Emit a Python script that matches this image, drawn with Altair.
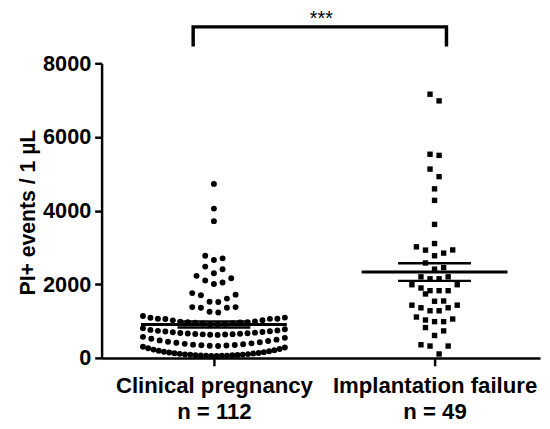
import json
import numpy as np
import pandas as pd
import altair as alt

# ---------------- data ----------------
categories = ["Clinical pregnancy", "Implantation failure"]
n_labels = ["n = 112", "n = 49"]

clinical = [
    4726, 4054, 3714, 2774, 2703, 2658, 2479, 2407, 2300, 2228, 2165, 2102, 2049, 2005,
    1760, 1718, 1700, 1611, 1525, 1520, 1379, 1379, 1361, 1361, 1253, 1235,
    1136, 1095, 1090, 1065, 1065, 1060, 1056, 1025, 1020, 990, 985, 970, 967, 962,
    955, 945, 935, 925, 915, 905,
    805, 780, 760, 745, 735, 725, 715, 705, 695, 686, 678, 670, 662, 655, 650, 645,
    640, 635, 630, 625,
    572, 545, 518, 496, 476, 458, 440, 425, 410, 395, 382, 370, 360, 350, 342, 335,
    328, 322,
    302, 281, 261, 243, 226, 210, 195, 181, 168, 156, 145, 135, 126, 118, 110, 103,
    96, 90, 84, 79, 74, 70, 66, 63, 60, 58, 56, 54,
]

failure = [
    7161, 6980, 5531, 5500, 5128, 4922, 4591, 4278, 3625, 3106,
    3016, 2932, 2927, 2846, 2774, 2578, 2452, 2410, 2202, 2202,
    2148, 2148, 1987, 1987, 1898, 1826, 1826, 1826, 1737, 1545,
    1539, 1432, 1432, 1361, 1361, 1280, 1280, 1110, 1056, 1030,
    985, 985, 824, 734, 609, 357, 322, 322, 107,
]

y_ticks = [0, 2000, 4000, 6000, 8000]
y_title = "PI+ events / 1 \u00b5L"
sig_text = "***"

# ---------------- layout parameters ----------------
W, H = 445, 299
X_DOMAIN = [-0.509, 1.478]
Y_DOMAIN = [0, 8000]
PX_PER_X = W / (X_DOMAIN[1] - X_DOMAIN[0])
ROW_BIN = 257          # value range grouped into one row of the scatter
MAX_HALF_PX = 72       # half width of a row
MEAN_HALF_PX = 74
SEM_HALF_PX = 37


def scatter_offsets(values, spacing_px):
    """GraphPad-like column scatter: group close values in rows, spread them."""
    order = sorted(range(len(values)), key=lambda i: values[i])
    offsets = [0.0] * len(values)
    i = 0
    while i < len(order):
        start = values[order[i]]
        row = [order[i]]
        j = i + 1
        while j < len(order) and values[order[j]] - start < ROW_BIN:
            row.append(order[j])
            j += 1
        n = len(row)
        s = spacing_px if n == 1 else min(spacing_px, 2 * MAX_HALF_PX / (n - 1))
        slots = []
        if n % 2 == 1:
            slots.append(0)
            for k in range(1, n // 2 + 1):
                slots += [k, -k]
        else:
            for k in range(n // 2):
                slots += [k + 0.5, -(k + 0.5)]
        for idx, slot in zip(row, slots):
            offsets[idx] = slot * s / PX_PER_X
        i = j
    return offsets


off_c = scatter_offsets(clinical, 8.8)
off_f = scatter_offsets(failure, 9.2)

pts_c = pd.DataFrame({"x": [0 + o for o in off_c], "y": clinical})
pts_f = pd.DataFrame({"x": [1 + o for o in off_f], "y": failure})

stats = []
for i, vals in enumerate([clinical, failure]):
    a = np.array(vals, dtype=float)
    m = a.mean()
    sem = a.std(ddof=1) / np.sqrt(len(a))
    stats.append({"kind": "mean", "x": i - MEAN_HALF_PX / PX_PER_X,
                  "x2": i + MEAN_HALF_PX / PX_PER_X, "y": m})
    stats.append({"kind": "sem", "x": i - SEM_HALF_PX / PX_PER_X,
                  "x2": i + SEM_HALF_PX / PX_PER_X, "y": m + sem})
    stats.append({"kind": "sem", "x": i - SEM_HALF_PX / PX_PER_X,
                  "x2": i + SEM_HALF_PX / PX_PER_X, "y": m - sem})
stats = pd.DataFrame(stats)

bx0, bx1 = -0.094, 1.054
by_low, by_top = 8455, 8990
bracket = pd.DataFrame({"x": [bx0, bx0, bx1, bx1],
                        "y": [by_low, by_top, by_top, by_low],
                        "o": [0, 1, 2, 3]})
stars = pd.DataFrame({"x": [0.487], "y": [9040], "t": [sig_text]})

label_expr = "datum.value == 0 ? {} : {}".format(
    json.dumps([categories[0], n_labels[0]]),
    json.dumps([categories[1], n_labels[1]]),
)

FONT = "Liberation Sans"
xscale = alt.Scale(domain=X_DOMAIN, nice=False, zero=False)
yscale = alt.Scale(domain=Y_DOMAIN, nice=False)

x_axis = alt.Axis(values=[0, 1], labelExpr=label_expr, title=None, grid=False,
                  labelFont=FONT, labelFontSize=22.5, labelFontWeight="bold",
                  labelColor="black", labelLineHeight=27, labelPadding=9,
                  labelLimit=0, labelOverlap=False, labelFlush=False,
                  tickSize=8, tickWidth=2.5, tickColor="black",
                  domainColor="black", domainWidth=2.5)
y_axis = alt.Axis(values=y_ticks, format="d", title=y_title, grid=False,
                  labelFont=FONT, labelFontSize=22, labelFontWeight="bold",
                  labelColor="black", labelPadding=4, tickSize=7, tickWidth=2.5,
                  tickColor="black", domainColor="black", domainWidth=2.5,
                  titleFont=FONT, titleFontSize=21.5, titleFontWeight="bold",
                  titleColor="black", titleAngle=270, titleAlign="center",
                  titleBaseline="alphabetic", titleX=-68, titleY=151)

X = alt.X("x:Q", scale=xscale, axis=x_axis)
Y = alt.Y("y:Q", scale=yscale, axis=y_axis)

circles = alt.Chart(pts_c).mark_point(shape="circle", filled=True, color="black",
                                      size=36, opacity=1).encode(x=X, y=Y)
squares = alt.Chart(pts_f).mark_point(shape="square", filled=True, color="black",
                                      size=30, opacity=1).encode(x=X, y=Y)
mean_rules = alt.Chart(stats).mark_rule(color="black").encode(
    x=X, x2="x2:Q", y=Y,
    strokeWidth=alt.condition("datum.kind == 'mean'", alt.value(3), alt.value(2.5)),
)
bracket_line = alt.Chart(bracket).mark_line(color="black", strokeWidth=3.5,
                                            strokeJoin="miter").encode(
    x=X, y=Y, order="o:Q",
)
stars_text = alt.Chart(stars).mark_text(font=FONT, fontSize=20, color="black",
                                        baseline="alphabetic", align="center").encode(
    x=X, y=Y, text="t:N",
)

chart = alt.layer(circles, squares, mean_rules, bracket_line, stars_text).properties(
    width=W, height=H,
    padding={"left": 95, "top": 53, "right": 2, "bottom": 68},
    autosize=alt.AutoSizeParams(type="none"),
    background="white",
).configure_view(stroke=None)

chart.save("out.html", embed_options={"renderer": "svg", "actions": False})
